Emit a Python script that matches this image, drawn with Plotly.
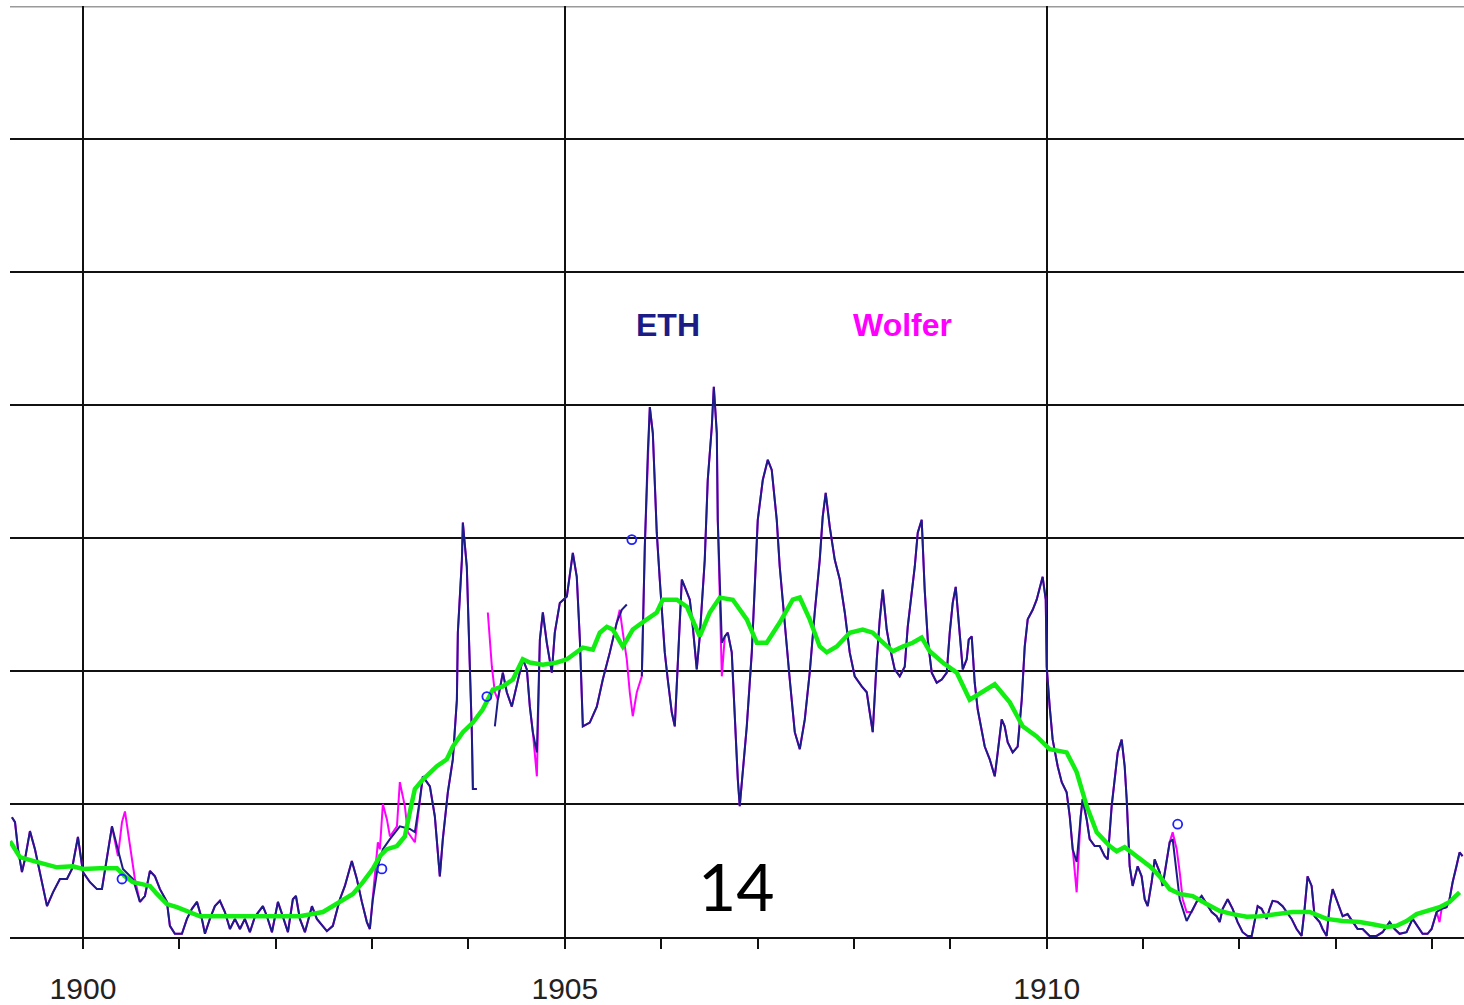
import plotly.graph_objects as go

# ---------------- data (decimal year, sunspot number) ----------------
ETH_T = [1899.263, 1899.295, 1899.326, 1899.367, 1899.398, 1899.450, 1899.502, 1899.554, 1899.627, 1899.689,
         1899.761, 1899.834, 1899.886, 1899.948, 1900.000, 1900.073, 1900.145, 1900.197, 1900.249, 1900.301,
         1900.353, 1900.415, 1900.519, 1900.591, 1900.643, 1900.695, 1900.747, 1900.799, 1900.871, 1900.902,
         1900.954, 1901.027, 1901.079, 1901.131, 1901.183, 1901.234, 1901.266, 1901.317, 1901.369, 1901.421,
         1901.473, 1901.525, 1901.577, 1901.629, 1901.680, 1901.732, 1901.784, 1901.867, 1901.909, 1901.961,
         1902.023, 1902.075, 1902.127, 1902.178, 1902.210, 1902.251, 1902.303, 1902.376, 1902.427, 1902.531,
         1902.593, 1902.666, 1902.718, 1902.790, 1902.842, 1902.894, 1902.946, 1902.977, 1903.008, 1903.060,
         1903.112, 1903.185, 1903.288, 1903.392, 1903.444, 1903.496, 1903.527, 1903.600, 1903.651, 1903.703,
         1903.734, 1903.786, 1903.838, 1903.880, 1903.890, 1903.932, 1903.942, 1903.983, 1904.015, 1904.035,
         1904.046, 1904.087, 1904.180, 1904.274, 1904.305, 1904.357, 1904.398, 1904.450, 1904.502, 1904.564,
         1904.606, 1904.637, 1904.668, 1904.710, 1904.741, 1904.772, 1904.813, 1904.865, 1904.896, 1904.948,
         1905.021, 1905.052, 1905.083, 1905.124, 1905.156, 1905.187, 1905.259, 1905.332, 1905.394, 1905.467,
         1905.539, 1905.591, 1905.643, 1905.720, 1905.799, 1905.830, 1905.861, 1905.882, 1905.913, 1905.934,
         1905.954, 1905.985, 1906.037, 1906.068, 1906.110, 1906.141, 1906.172, 1906.214, 1906.245, 1906.297,
         1906.328, 1906.369, 1906.400, 1906.452, 1906.483, 1906.525, 1906.546, 1906.577, 1906.587, 1906.629,
         1906.660, 1906.691, 1906.732, 1906.763, 1906.795, 1906.815, 1906.846, 1906.888, 1906.940, 1906.971,
         1907.002, 1907.054, 1907.106, 1907.147, 1907.199, 1907.230, 1907.282, 1907.334, 1907.386, 1907.438,
         1907.490, 1907.541, 1907.593, 1907.645, 1907.676, 1907.707, 1907.749, 1907.801, 1907.853, 1907.905,
         1907.956, 1908.008, 1908.081, 1908.133, 1908.164, 1908.195, 1908.237, 1908.268, 1908.299, 1908.340,
         1908.371, 1908.423, 1908.475, 1908.527, 1908.558, 1908.600, 1908.631, 1908.662, 1908.703, 1908.734,
         1908.766, 1908.807, 1908.859, 1908.911, 1908.963, 1908.994, 1909.025, 1909.056, 1909.098, 1909.129,
         1909.170, 1909.191, 1909.222, 1909.253, 1909.284, 1909.326, 1909.357, 1909.409, 1909.461, 1909.492,
         1909.533, 1909.564, 1909.595, 1909.647, 1909.699, 1909.741, 1909.772, 1909.803, 1909.855, 1909.896,
         1909.927, 1909.958, 1909.990, 1910.000, 1910.031, 1910.062, 1910.114, 1910.156, 1910.207, 1910.239,
         1910.270, 1910.311, 1910.353, 1910.373, 1910.415, 1910.446, 1910.498, 1910.550, 1910.602, 1910.633,
         1910.674, 1910.705, 1910.737, 1910.778, 1910.809, 1910.830, 1910.861, 1910.892, 1910.944, 1910.985,
         1911.017, 1911.048, 1911.089, 1911.120, 1911.172, 1911.203, 1911.245, 1911.276, 1911.307, 1911.349,
         1911.380, 1911.452, 1911.504, 1911.556, 1911.608, 1911.660, 1911.712, 1911.763, 1911.795, 1911.826,
         1911.878, 1911.929, 1911.981, 1912.033, 1912.085, 1912.127, 1912.158, 1912.189, 1912.230, 1912.282,
         1912.313, 1912.344, 1912.396, 1912.448, 1912.490, 1912.541, 1912.593, 1912.645, 1912.676, 1912.707,
         1912.749, 1912.780, 1912.832, 1912.863, 1912.905, 1912.936, 1912.967, 1913.019, 1913.071, 1913.122,
         1913.174, 1913.226, 1913.278, 1913.351, 1913.423, 1913.485, 1913.558, 1913.610, 1913.662, 1913.734,
         1913.797, 1913.849, 1913.900, 1913.952, 1913.994, 1914.046, 1914.098, 1914.149, 1914.180, 1914.212,
         1914.253, 1914.284, 1914.315]

ETH_V = [22.5, 21.6, 16.5, 12.2, 14.6, 19.9, 16.5, 12.2, 5.8, 8.4,
         10.9, 10.9, 12.8, 18.8, 12.2, 10.3, 9.0, 9.0, 15.2, 20.8,
         17.1, 12.8, 10.9, 6.6, 7.7, 12.4, 11.4, 9.0, 6.6, 2.1,
         0.6, 0.6, 3.4, 5.3, 6.6, 3.4, 0.6, 3.4, 5.8, 6.8,
         4.7, 1.5, 3.4, 1.5, 3.4, 0.9, 3.8, 5.8, 3.9, 0.9,
         6.6, 3.9, 0.9, 7.1, 7.7, 3.4, 0.9, 5.8, 3.4, 1.1,
         2.1, 7.1, 9.6, 14.3, 10.9, 6.6, 2.8, 1.5, 7.1, 13.3,
         16.5, 18.4, 20.8, 20.3, 19.7, 25.9, 30.2, 28.3, 22.7, 11.4,
         18.4, 27.2, 33.4, 44.6, 57.2, 70.9, 77.9, 69.6, 52.7, 38.5,
         27.8, 27.8, None, 39.6, 44.6, 49.7, 46.0, 43.3, 47.1, 52.2,
         50.3, 43.3, 38.5, 34.7, 55.9, 61.0, 55.3, 49.7, 57.2, 62.8,
         64.0, 67.7, 72.2, 67.7, 55.9, 39.6, 40.3, 43.3, 48.4, 53.5,
         59.1, 61.5, 62.5, None, 49.0, 73.4, 91.0, 99.6, 94.7, 84.6,
         76.0, 67.2, 53.5, 48.4, 42.2, 39.6, 52.2, 67.2, 65.8, 63.4,
         58.3, 50.3, 56.5, 70.9, 85.9, 95.9, 103.4, 94.7, 78.4, 55.3,
         56.5, 57.2, 53.5, 40.9, 29.6, 24.6, 31.5, 39.6, 53.5, 67.2,
         78.4, 85.9, 89.7, 87.8, 78.4, 69.6, 58.3, 48.4, 38.5, 35.3,
         40.9, 49.7, 61.0, 70.9, 79.0, 83.5, 77.1, 70.9, 67.2, 61.0,
         53.5, 49.0, 47.1, 46.0, 42.2, 38.5, 52.2, 59.7, 65.3, 57.8,
         54.6, 50.3, 49.0, 50.8, 58.3, 64.7, 69.6, 76.0, 78.4, 65.3,
         55.9, 49.7, 47.8, 48.4, 49.7, 57.2, 62.8, 65.8, 55.9, 50.3,
         52.2, 55.9, 56.5, 47.8, 42.8, 38.5, 35.8, 33.4, 30.2, 34.7,
         40.9, 39.6, 36.6, 34.7, 35.8, 44.6, 54.6, 59.7, 61.5, 63.4,
         65.8, 67.7, 63.4, 50.8, 43.3, 37.1, 32.1, 29.1, 27.2, 22.7,
         16.5, 14.1, 22.7, 25.9, 22.1, 18.4, 17.1, 17.1, 15.2, 14.6,
         24.6, 30.2, 34.7, 37.1, 32.1, 25.9, 13.3, 9.6, 13.3, 11.4,
         7.1, 5.8, 10.3, 14.6, 12.2, 9.6, 14.1, 17.8, 18.4, 12.2,
         7.1, 3.0, 4.7, 6.6, 7.7, 6.2, 4.7, 3.9, 2.8, 5.3,
         7.1, 5.3, 2.8, 0.9, 0.2, 0.2, 2.8, 5.8, 5.3, 3.4,
         5.3, 6.8, 6.6, 5.8, 4.7, 3.4, 1.5, 0.2, 5.3, 11.4,
         9.6, 3.9, 2.8, 1.5, 0.2, 5.8, 9.0, 6.6, 3.9, 4.3,
         2.8, 1.5, 1.5, 0.2, 0.2, 0.9, 2.8, 1.5, 0.6, 0.9,
         3.4, 2.1, 0.6, 0.6, 1.5, 4.7, 5.3, 5.6, 7.1, 10.3,
         13.3, 15.9, 15.2]

# Wolfer series: identical to ETH except in these stretches (start, end, times, values)
WOLFER_PATCHES = [
    (1900.35, 1900.54, [1900.363, 1900.405, 1900.436, 1900.467, 1900.508, 1900.539],
                       [15.2, 21.6, 23.6, 19.7, 15.2, 10.9]),
    (1903.05, 1903.45, [1903.060, 1903.081, 1903.112, 1903.154, 1903.185, 1903.258, 1903.288, 1903.340, 1903.371, 1903.444],
                       [17.8, 16.5, 25.0, 22.1, 18.9, 20.8, 29.1, 24.6, 19.7, 17.8]),
    (1904.19, 1904.29, [1904.201, 1904.243, 1904.274], [61.0, 50.8, 46.0]),
    (1904.705, 1904.715, [1904.710], [30.2]),
    (1905.56, 1905.79, [1905.570, 1905.602, 1905.643, 1905.674, 1905.705, 1905.747],
                       [61.5, 57.2, 52.2, 46.0, 41.5, 46.0]),
    (1906.62, 1906.64, [1906.629], [49.0]),
    (1910.30, 1910.32, [1910.311], [8.4]),
    (1911.30, 1911.46, [1911.307, 1911.349, 1911.380, 1911.411, 1911.452], [19.7, 16.5, 12.2, 7.1, 4.7]),
    (1914.07, 1914.08, [1914.076], [2.8]),
]

SMOOTH_T = [1899.243, 1899.346, 1899.481, 1899.627, 1899.730, 1899.896, 1900.000, 1900.176, 1900.353, 1900.436,
            1900.519, 1900.622, 1900.695, 1900.768, 1900.871, 1900.975, 1901.079, 1901.214, 1901.732, 1902.251,
            1902.490, 1902.593, 1902.697, 1902.801, 1902.905, 1903.008, 1903.081, 1903.154, 1903.258, 1903.340,
            1903.392, 1903.444, 1903.527, 1903.672, 1903.776, 1903.838, 1903.942, 1904.046, 1904.149, 1904.253,
            1904.357, 1904.461, 1904.564, 1904.637, 1904.772, 1904.917, 1905.021, 1905.124, 1905.187, 1905.291,
            1905.363, 1905.436, 1905.498, 1905.602, 1905.705, 1905.851, 1905.954, 1906.016, 1906.162, 1906.266,
            1906.400, 1906.504, 1906.608, 1906.743, 1906.888, 1906.992, 1907.095, 1907.230, 1907.365, 1907.438,
            1907.541, 1907.645, 1907.718, 1907.822, 1907.956, 1908.091, 1908.195, 1908.268, 1908.403, 1908.506,
            1908.610, 1908.703, 1908.786, 1908.921, 1909.066, 1909.201, 1909.336, 1909.461, 1909.617, 1909.751,
            1909.896, 1910.031, 1910.207, 1910.311, 1910.415, 1910.519, 1910.654, 1910.726, 1910.809, 1910.934,
            1911.069, 1911.172, 1911.276, 1911.380, 1911.515, 1911.660, 1911.795, 1911.929, 1912.075, 1912.210,
            1912.386, 1912.552, 1912.728, 1912.905, 1913.071, 1913.247, 1913.382, 1913.527, 1913.631, 1913.734,
            1913.838, 1913.942, 1914.077, 1914.180, 1914.284]
SMOOTH_V = [18.0, 15.0, 14.3, 13.7, 13.1, 13.3, 12.8, 12.9, 12.9, 11.4,
            10.3, 9.9, 9.6, 8.1, 6.2, 5.6, 4.9, 3.9, 3.9, 3.9,
            4.7, 5.8, 6.8, 8.1, 10.3, 12.8, 15.2, 16.5, 17.1, 18.9,
            23.5, 27.8, 29.6, 32.1, 33.4, 35.8, 38.5, 40.3, 42.8, 46.5,
            47.1, 48.4, 52.2, 51.6, 51.2, 51.6, 52.2, 53.5, 54.4, 54.0,
            57.2, 58.3, 57.8, 54.6, 57.8, 59.7, 61.0, 63.4, 63.4, 62.1,
            56.5, 61.0, 63.8, 63.4, 59.7, 55.3, 55.3, 59.1, 63.4, 63.8,
            59.7, 54.6, 53.5, 54.6, 57.2, 57.8, 57.2, 55.9, 53.7, 54.6,
            55.3, 56.3, 53.7, 51.6, 49.7, 44.6, 46.0, 47.5, 44.1, 39.6,
            37.7, 35.3, 34.7, 31.0, 24.6, 19.7, 17.1, 16.1, 16.9, 15.2,
            13.3, 11.4, 9.0, 8.1, 7.7, 6.2, 4.9, 4.3, 3.8, 3.9,
            4.3, 4.7, 4.7, 3.4, 3.0, 2.8, 2.4, 1.9, 2.1, 3.0,
            4.3, 4.9, 5.6, 6.6, 8.4]

CIRCLE_T = [1900.405, 1903.102, 1904.191, 1905.695, 1911.359]
CIRCLE_V = [10.9, 12.8, 45.2, 74.7, 21.2]

YEAR_LABELS = [1900, 1905, 1910]
YEAR_TICKS = list(range(1900, 1915))

# ---------------- build Wolfer series from ETH + patches ----------------
w_pts = []
for t, v in zip(ETH_T, ETH_V):
    if any(a <= t <= b for a, b, _, _ in WOLFER_PATCHES):
        continue
    w_pts.append((t, v))
for a, b, ts, vs in WOLFER_PATCHES:
    w_pts.extend(zip(ts, vs))
w_pts.sort(key=lambda p: p[0])
WOLFER_T = [p[0] for p in w_pts]
WOLFER_V = [p[1] for p in w_pts]

NAVY = "#1c1c86"
MAGENTA = "#ff00ff"
GREEN = "#12ee12"

fig = go.Figure()
fig.add_trace(go.Scatter(x=WOLFER_T, y=WOLFER_V, mode="lines", name="Wolfer",
                         line=dict(color=MAGENTA, width=2), connectgaps=False))
fig.add_trace(go.Scatter(x=ETH_T, y=ETH_V, mode="lines", name="ETH",
                         line=dict(color=NAVY, width=2), connectgaps=False))
fig.add_trace(go.Scatter(x=SMOOTH_T, y=SMOOTH_V, mode="lines", name="smoothed",
                         line=dict(color=GREEN, width=4.5)))
fig.add_trace(go.Scatter(x=CIRCLE_T, y=CIRCLE_V, mode="markers", name="points",
                         marker=dict(symbol="circle-open", size=9, color="#2020ff",
                                     line=dict(width=1.8, color="#2020ff"))))

# top border line
fig.add_shape(type="line", xref="paper", yref="y", x0=0, x1=1, y0=175, y1=175,
              line=dict(color="#9a9a9a", width=3), layer="below")

fig.add_annotation(x=1906.07, y=115.0, text="<b>ETH</b>", showarrow=False,
                   font=dict(family="Liberation Sans, Arial", size=32, color=NAVY))
fig.add_annotation(x=1908.5, y=115.0, text="<b>Wolfer</b>", showarrow=False,
                   font=dict(family="Liberation Sans, Arial", size=32, color=MAGENTA))
fig.add_annotation(x=1906.784, y=9.6, text="14", showarrow=False,
                   font=dict(family="Lato", size=66, color="#000000"))

fig.update_layout(
    width=1464, height=1005,
    margin=dict(l=10, r=0, t=6, b=65),
    paper_bgcolor="white", plot_bgcolor="white",
    showlegend=False,
    xaxis=dict(range=[1899.243, 1914.33], tickvals=YEAR_LABELS,
               ticktext=[str(y) for y in YEAR_LABELS],
               showgrid=True, gridcolor="#111111", gridwidth=2,
               ticks="outside", ticklen=10, tickwidth=2, tickcolor="#111111",
               showline=True, linecolor="#111111", linewidth=2,
               zeroline=False, ticklabelstandoff=14,
               tickfont=dict(family="Liberation Sans, Arial", size=30, color="#222222"),
               minor=dict(tickvals=YEAR_TICKS, ticks="outside", ticklen=10, tickwidth=2,
                          tickcolor="#111111", showgrid=False)),
    yaxis=dict(range=[0, 175], tickvals=[25, 50, 75, 100, 125, 150],
               showgrid=True, gridcolor="#111111", gridwidth=2,
               showticklabels=False, ticks="", zeroline=False, showline=False),
)

fig.write_html("out.html", config={"displayModeBar": False},
               post_script="document.body.style.margin='0px';document.body.style.overflow='hidden';")
